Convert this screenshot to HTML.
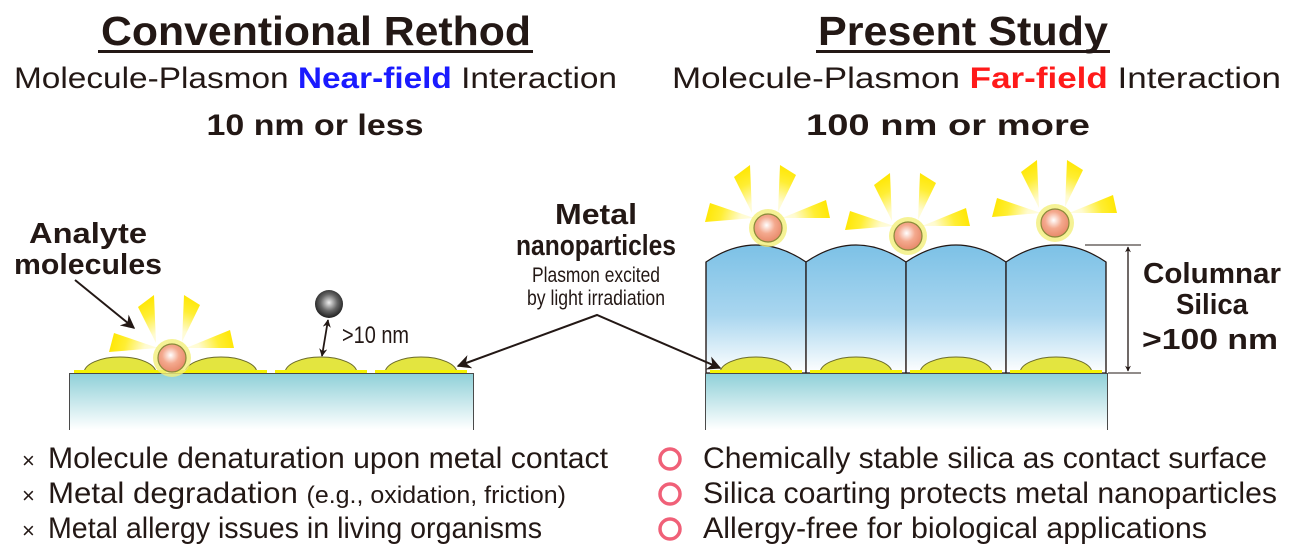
<!DOCTYPE html>
<html><head><meta charset="utf-8"><style>
html,body{margin:0;padding:0;background:#fff;}
svg{display:block;}
text{font-family:"Liberation Sans",Arial,sans-serif;fill:#231815;}
</style></head><body>
<svg width="1299" height="557" viewBox="0 0 1299 557" xmlns="http://www.w3.org/2000/svg">
<defs>
  <linearGradient id="sub" x1="0" y1="0" x2="0" y2="1">
    <stop offset="0" stop-color="#8fd0d8"/><stop offset="1" stop-color="#ffffff"/>
  </linearGradient>
  <linearGradient id="col" x1="0" y1="0" x2="0" y2="1">
    <stop offset="0" stop-color="#7cc1e6"/><stop offset="0.55" stop-color="#a9d6ef"/><stop offset="1" stop-color="#ffffff"/>
  </linearGradient>
  <radialGradient id="mol" cx="0.45" cy="0.4" r="0.6">
    <stop offset="0" stop-color="#fff"/><stop offset="0.5" stop-color="#f4a98e"/><stop offset="1" stop-color="#e88a6a"/>
  </radialGradient>
  <radialGradient id="ball" cx="0.5" cy="0.45" r="0.6">
    <stop offset="0" stop-color="#eee"/><stop offset="0.5" stop-color="#666"/><stop offset="1" stop-color="#111"/>
  </radialGradient>
  <radialGradient id="ray" cx="0" cy="0" r="65" gradientUnits="userSpaceOnUse">
    <stop offset="0" stop-color="#ffffff"/><stop offset="0.45" stop-color="#fffbd0"/><stop offset="0.75" stop-color="#ffee33"/><stop offset="1" stop-color="#ffe600"/>
  </radialGradient>
  <radialGradient id="glow" cx="0.5" cy="1" r="0.6">
    <stop offset="0.55" stop-color="#f3f070" stop-opacity="0.95"/><stop offset="1" stop-color="#fffbe0" stop-opacity="0"/>
  </radialGradient>
  <g id="sun">
    <polygon points="-16,-15 -34,-51 -18,-63" fill="url(#ray)"/>
    <polygon points="10,-16 12,-63 28,-53" fill="url(#ray)"/>
    <polygon points="-14,-10 -63,-6 -58,-25" fill="url(#ray)"/>
    <polygon points="14,-10 58,-28 62,-10" fill="url(#ray)"/>
    <circle r="19" fill="#f2ef7a" opacity="0.8"/>
    <circle r="14" fill="url(#mol)" stroke="#8a8a3a" stroke-width="1.2"/>
  </g>
  <g id="dome">
    <ellipse cx="0" cy="0" rx="50" ry="28" fill="url(#glow)"/>
    <path d="M-36,0 A36,16 0 0 1 36,0 Z" fill="#e3e540" stroke="#6b6b2a" stroke-width="1"/>
    <rect x="-46" y="-3" width="92" height="3" fill="#f5f200"/>
  </g>
  <marker id="ah" viewBox="0 0 10 10" refX="9" refY="5" markerWidth="7" markerHeight="7" orient="auto-start-reverse">
    <path d="M0,0 L10,5 L0,10 L3,5 Z" fill="#231815"/>
  </marker>
  <marker id="ahs" viewBox="0 0 10 10" refX="9" refY="5" markerWidth="4.5" markerHeight="4.5" orient="auto-start-reverse">
    <path d="M0,0 L10,5 L0,10 L3,5 Z" fill="#231815"/>
  </marker>
</defs>

<!-- Headers -->
<text x="316" y="45" font-size="41" font-weight="bold" text-anchor="middle" textLength="430" lengthAdjust="spacingAndGlyphs">Conventional Rethod</text>
<rect x="98" y="50" width="435" height="3" fill="#231815"/>
<text x="14" y="88" font-size="30" textLength="603" lengthAdjust="spacingAndGlyphs">Molecule-Plasmon <tspan font-weight="bold" fill="#1a1aff">Near-field</tspan> Interaction</text>
<text x="315" y="135" font-size="30" font-weight="bold" text-anchor="middle" textLength="217" lengthAdjust="spacingAndGlyphs">10 nm or less</text>

<text x="963" y="45" font-size="41" font-weight="bold" text-anchor="middle" textLength="290" lengthAdjust="spacingAndGlyphs">Present Study</text>
<rect x="816" y="50" width="294" height="3" fill="#231815"/>
<text x="672" y="88" font-size="30" textLength="609" lengthAdjust="spacingAndGlyphs">Molecule-Plasmon <tspan font-weight="bold" fill="#ff1a1a">Far-field</tspan> Interaction</text>
<text x="948" y="135" font-size="30" font-weight="bold" text-anchor="middle" textLength="284" lengthAdjust="spacingAndGlyphs">100 nm or more</text>

<!-- Left substrate -->
<use href="#dome" x="120" y="373"/>
<use href="#dome" x="221" y="373"/>
<use href="#dome" x="321" y="373"/>
<use href="#dome" x="421" y="373"/>
<rect x="69.5" y="373.5" width="404" height="56" fill="url(#sub)"/>
<path d="M69.5,430 V373.5 H473.5 V430" fill="none" stroke="#4a4a4a" stroke-width="1"/>
<use href="#sun" x="172" y="358"/>
<circle cx="329" cy="304" r="14" fill="url(#ball)"/>
<line x1="328" y1="320" x2="322" y2="356" stroke="#231815" stroke-width="1.8" marker-start="url(#ahs)" marker-end="url(#ahs)"/>
<text x="342" y="343" font-size="24" textLength="67" lengthAdjust="spacingAndGlyphs">&gt;10 nm</text>

<!-- Right: columns -->
<g stroke="#231815" stroke-width="1.2" fill="url(#col)">
  <path d="M706,373 V262 Q756,228 806,262 V373 Z"/>
  <path d="M806,373 V262 Q856,228 906,262 V373 Z"/>
  <path d="M906,373 V262 Q956,228 1006,262 V373 Z"/>
  <path d="M1006,373 V262 Q1056,228 1106,262 V373 Z"/>
</g>
<g clip-path="none">
<use href="#dome" x="756" y="373"/>
<use href="#dome" x="856" y="373"/>
<use href="#dome" x="956" y="373"/>
<use href="#dome" x="1056" y="373"/>
</g>
<g stroke="#231815" stroke-width="1.2">
  <line x1="806" y1="262" x2="806" y2="373"/><line x1="906" y1="262" x2="906" y2="373"/><line x1="1006" y1="262" x2="1006" y2="373"/>
  <line x1="706" y1="262" x2="706" y2="373"/><line x1="1106" y1="262" x2="1106" y2="373"/>
</g>
<rect x="705.5" y="373.5" width="402" height="56" fill="url(#sub)"/>
<path d="M705.5,430 V373.5 H1107.5 V430" fill="none" stroke="#4a4a4a" stroke-width="1"/>
<use href="#sun" x="768" y="228"/>
<use href="#sun" x="908" y="236"/>
<use href="#sun" x="1055" y="223"/>

<!-- dimension -->
<line x1="1085" y1="245" x2="1141" y2="245" stroke="#231815" stroke-width="1"/>
<line x1="1108" y1="373" x2="1141" y2="373" stroke="#231815" stroke-width="1"/>
<line x1="1128" y1="247" x2="1128" y2="371" stroke="#231815" stroke-width="1.3" marker-start="url(#ahs)" marker-end="url(#ahs)"/>
<text x="1212" y="283" font-size="29" font-weight="bold" text-anchor="middle" textLength="138" lengthAdjust="spacingAndGlyphs">Columnar</text>
<text x="1212" y="314" font-size="29" font-weight="bold" text-anchor="middle" textLength="72" lengthAdjust="spacingAndGlyphs">Silica</text>
<text x="1210" y="349" font-size="29" font-weight="bold" text-anchor="middle" textLength="136" lengthAdjust="spacingAndGlyphs">&gt;100 nm</text>

<!-- Labels -->
<text x="88" y="243" font-size="29" font-weight="bold" text-anchor="middle" textLength="118" lengthAdjust="spacingAndGlyphs">Analyte</text>
<text x="88" y="274" font-size="29" font-weight="bold" text-anchor="middle" textLength="148" lengthAdjust="spacingAndGlyphs">molecules</text>
<line x1="75" y1="280" x2="134" y2="328" stroke="#231815" stroke-width="2" marker-end="url(#ah)"/>

<text x="596" y="224" font-size="29" font-weight="bold" text-anchor="middle" textLength="82" lengthAdjust="spacingAndGlyphs">Metal</text>
<text x="596" y="255" font-size="29" font-weight="bold" text-anchor="middle" textLength="160" lengthAdjust="spacingAndGlyphs">nanoparticles</text>
<text x="596" y="282" font-size="21" text-anchor="middle" textLength="128" lengthAdjust="spacingAndGlyphs">Plasmon excited</text>
<text x="596" y="305" font-size="21" text-anchor="middle" textLength="138" lengthAdjust="spacingAndGlyphs">by light irradiation</text>
<polyline points="458,366 597,315 720,368" fill="none" stroke="#231815" stroke-width="2" marker-start="url(#ah)" marker-end="url(#ah)"/>

<!-- Bullets left -->
<g font-size="30">
<text x="22" y="468" font-size="22">×</text>
<text x="48" y="468" textLength="560" lengthAdjust="spacingAndGlyphs">Molecule denaturation upon metal contact</text>
<text x="22" y="503" font-size="22">×</text>
<text x="48" y="503" textLength="518" lengthAdjust="spacingAndGlyphs">Metal degradation <tspan font-size="24">(e.g., oxidation, friction)</tspan></text>
<text x="22" y="538" font-size="22">×</text>
<text x="48" y="538" textLength="494" lengthAdjust="spacingAndGlyphs">Metal allergy issues in living organisms</text>
</g>
<!-- Bullets right -->
<g fill="none" stroke="#f06078" stroke-width="3.5">
<circle cx="670" cy="459" r="10"/>
<circle cx="670" cy="494" r="10"/>
<circle cx="670" cy="529" r="10"/>
</g>
<g font-size="30">
<text x="703" y="468" textLength="564" lengthAdjust="spacingAndGlyphs">Chemically stable silica as contact surface</text>
<text x="703" y="503" textLength="574" lengthAdjust="spacingAndGlyphs">Silica coarting protects metal nanoparticles</text>
<text x="703" y="538" textLength="504" lengthAdjust="spacingAndGlyphs">Allergy-free for biological applications</text>
</g>
</svg>
</body></html>
